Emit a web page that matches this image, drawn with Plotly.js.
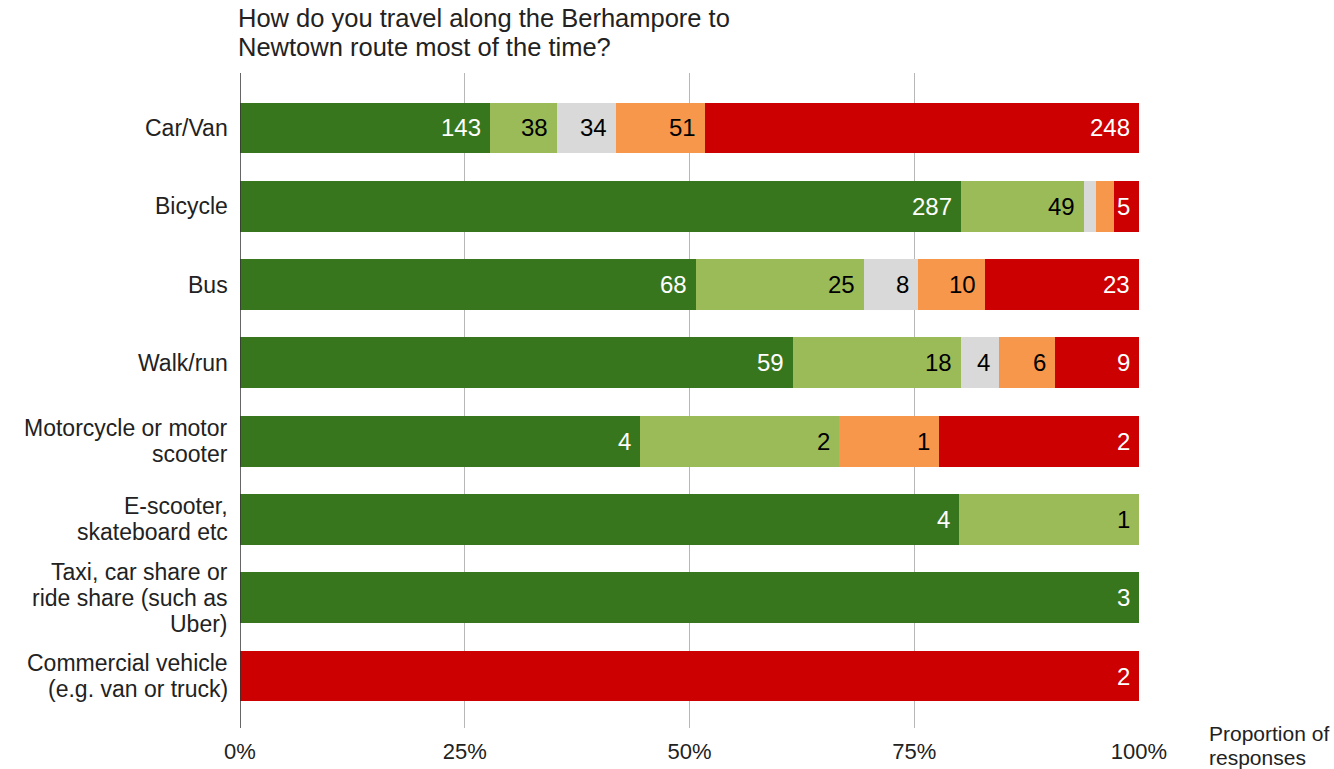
<!DOCTYPE html>
<html>
<head>
<meta charset="utf-8">
<script src="https://cdn.plot.ly/plotly-3.0.1.min.js"></script>
<style>html,body{margin:0;padding:0;background:#fff;}#chart{width:1334px;height:769px;}</style>
</head>
<body>
<div id="chart"></div>
<script>
// Categories (top to bottom)
const categories = [
  "Car/Van",
  "Bicycle",
  "Bus",
  "Walk/run",
  "Motorcycle or motor<br>scooter",
  "E-scooter,<br>skateboard etc",
  "Taxi, car share or<br>ride share (such as<br>Uber)",
  "Commercial vehicle<br>(e.g. van or truck)"
];

// Response counts per category, one array per response group (left to right)
const darkGreen  = [143, 287, 68, 59, 4, 4, 3, 0];
const lightGreen = [38, 49, 25, 18, 2, 1, 0, 0];
const grey       = [34, 5, 8, 4, 0, 0, 0, 0];
const orange     = [51, 7, 10, 6, 1, 0, 0, 0];
const red        = [248, 10, 23, 9, 2, 0, 0, 2];

// Labels as printed on the bars ('' = not shown)
const darkGreenLabels  = ["143", "287", "68", "59", "4", "4", "3", ""];
const lightGreenLabels = ["38", "49", "25", "18", "2", "1", "", ""];
const greyLabels       = ["34", "", "8", "4", "", "", "", ""];
const orangeLabels     = ["51", "", "10", "6", "1", "", "", ""];
const redLabels        = ["248", "5", "23", "9", "2", "", "", "2"];

const xTickVals = [0, 25, 50, 75, 100];
const xTickText = ["0%", "25%", "50%", "75%", "100%"];

const titleText = "How do you travel along the Berhampore to<br>Newtown route most of the time?";
const xAxisTitle = "Proportion of<br>responses";

const totals = categories.map((c, i) =>
  darkGreen[i] + lightGreen[i] + grey[i] + orange[i] + red[i]);

const series = [
  {vals: darkGreen,  labels: darkGreenLabels,  color: "#38761d", text: "#ffffff", name: "Group 1"},
  {vals: lightGreen, labels: lightGreenLabels, color: "#9bbb59", text: "#000000", name: "Group 2"},
  {vals: grey,       labels: greyLabels,       color: "#d9d9d9", text: "#000000", name: "Group 3"},
  {vals: orange,     labels: orangeLabels,     color: "#f6974b", text: "#000000", name: "Group 4"},
  {vals: red,        labels: redLabels,        color: "#cc0000", text: "#ffffff", name: "Group 5"}
];

const FONT = "Liberation Sans, Arial, sans-serif";

const traces = series.map(s => ({
  type: "bar",
  orientation: "h",
  name: s.name,
  y: categories.map((c, i) => i),
  x: s.vals.map((v, i) => v / totals[i] * 100),
  marker: {color: s.color, line: {width: 0}},
  hoverinfo: "skip",
  showlegend: false
}));

// multi-line text with a tight line height
function multiLine(text, base, lineHeight) {
  const parts = text.split("<br>");
  const n = parts.length;
  return parts.map((p, j) => Object.assign({}, base, {
    text: p,
    yshift: (base.yshift || 0) - (j - (n - 1) / 2) * lineHeight,
    yanchor: "middle",
    borderpad: 0,
    showarrow: false
  }));
}

const annotations = [];

// title
annotations.push(...multiLine(titleText, {
  xref: "paper", yref: "paper", x: 0, xshift: -3, y: 1, yshift: 40.5,
  xanchor: "left", align: "left",
  font: {family: FONT, size: 25.5, color: "#222222"}
}, 29));

// x axis title
annotations.push(...multiLine(xAxisTitle, {
  xref: "paper", yref: "paper", x: 1, xshift: 69, y: 0, yshift: -17,
  xanchor: "left", align: "left",
  font: {family: FONT, size: 21, color: "#222222"}
}, 24));

// category labels
categories.forEach((c, i) => {
  annotations.push(...multiLine(c, {
    xref: "paper", yref: "y", x: 0, xshift: -11, y: i, yshift: 0,
    xanchor: "right", align: "right",
    font: {family: FONT, size: 23, color: "#222222"}
  }, 26));
});

// bar value labels, right-aligned at each segment's end
const cum = categories.map(() => 0);
series.forEach(s => {
  s.vals.forEach((v, i) => {
    cum[i] += v / totals[i] * 100;
    if (s.labels[i] !== "") {
      annotations.push({
        xref: "x", yref: "y", x: Math.min(cum[i], 100), y: i,
        xanchor: "right", yanchor: "middle", xshift: -8,
        text: s.labels[i], showarrow: false, borderpad: 0,
        font: {family: FONT, size: 24, color: s.text}
      });
    }
  });
});

const layout = {
  width: 1334,
  height: 769,
  barmode: "stack",
  bargap: 0.35,
  paper_bgcolor: "#ffffff",
  plot_bgcolor: "#ffffff",
  font: {family: FONT, size: 20, color: "#222222"},
  margin: {l: 240, r: 195, t: 73, b: 41, pad: 0},
  xaxis: {
    range: [0, 100],
    tickvals: xTickVals,
    ticktext: xTickText,
    showgrid: true,
    gridcolor: "#b7b7b7",
    gridwidth: 1,
    zeroline: false,
    showline: false,
    ticks: "",
    ticklabelstandoff: 8,
    tickfont: {size: 22, color: "#222222"},
    fixedrange: true
  },
  yaxis: {
    range: [7.664, -0.702],
    showgrid: false,
    zeroline: false,
    showline: false,
    showticklabels: false,
    ticks: "",
    fixedrange: true
  },
  shapes: [{
    type: "line", xref: "x", yref: "paper",
    x0: 0, x1: 0, y0: 0, y1: 1,
    line: {color: "#333333", width: 1.5}
  }],
  annotations: annotations
};

Plotly.newPlot("chart", traces, layout, {displayModeBar: false, staticPlot: true});
</script>
</body>
</html>
